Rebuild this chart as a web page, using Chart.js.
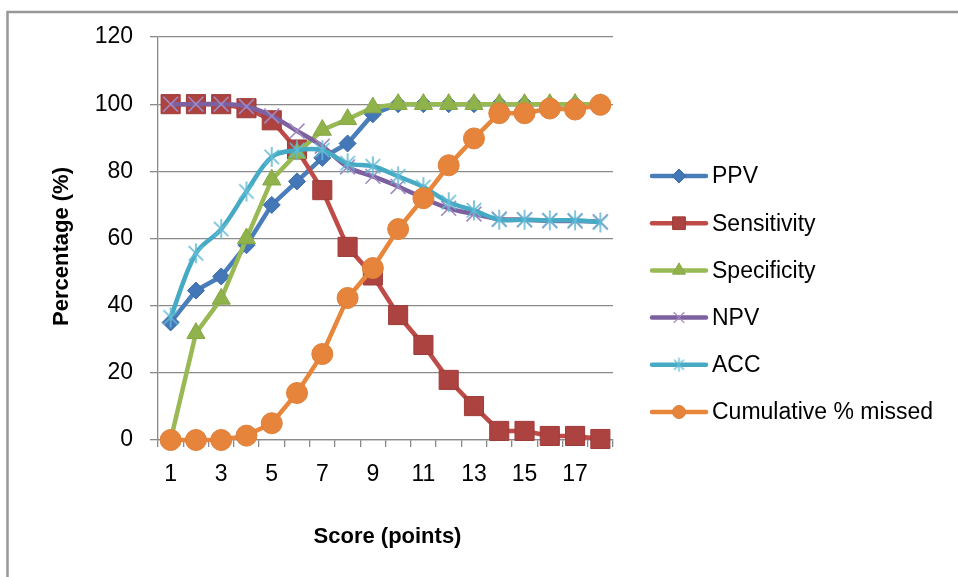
<!DOCTYPE html>
<html>
<head>
<meta charset="utf-8">
<script src="https://cdn.jsdelivr.net/npm/chart.js@4/dist/chart.umd.min.js"></script>
<style>
  html, body { margin: 0; padding: 0; background: #fff; }
  #wrap { width: 958px; height: 577px; }
</style>
</head>
<body>
<div id="wrap"><canvas id="c" width="958" height="577"></canvas></div>
<script>
// Score cut-offs and diagnostic measures (%) at each score
const scores = ['1','2','3','4','5','6','7','8','9','10','11','12','13','14','15','16','17','18'];
const ppv         = [35, 44.5, 48.7, 58, 70, 77, 84, 88.3, 97, 100, 100, 100, 100, 100, 100, 100, 100, 100];
const sensitivity = [100, 100, 100, 98.8, 95.2, 86.5, 74.4, 57.5, 49, 37.2, 28.3, 17.9, 10.1, 2.7, 2.7, 1.2, 1.2, 0.3];
const specificity = [0, 31.8, 42, 60, 77.5, 85.4, 92.3, 95.5, 99, 100, 100, 100, 100, 100, 100, 100, 100, 100];
const npv         = [100, 100, 100, 99.3, 96.5, 92, 87.5, 81.3, 78.5, 75.5, 72, 69, 67.3, 65.8, 65.6, 65.3, 65.2, 65];
const acc         = [36.5, 55.6, 62.8, 74, 84.3, 86.3, 86.3, 82.4, 81.5, 78.5, 75.3, 70.8, 68.4, 65.6, 65.6, 65.4, 65.4, 64.8];
const missed      = [0, 0, 0, 1.3, 5, 14, 25.6, 42.3, 51.2, 62.8, 72, 81.8, 89.8, 97.3, 97.3, 98.7, 98.4, 99.8];
const seriesNames = ['PPV', 'Sensitivity', 'Specificity', 'NPV', 'ACC', 'Cumulative % missed'];
const yTicks = { min: 0, max: 120, step: 20 };

const FONT = '"Liberation Sans", Arial, sans-serif';

// asterisk marker: an X with a vertical stroke through it
function asterisk(size, color, lw) {
  const cv = document.createElement('canvas');
  cv.width = size; cv.height = size;
  const g = cv.getContext('2d');
  const c = size / 2, d = size * 0.33, v = size * 0.46;
  g.strokeStyle = color; g.lineWidth = lw; g.lineCap = 'butt';
  g.beginPath();
  g.moveTo(c - d, c - d); g.lineTo(c + d, c + d);
  g.moveTo(c + d, c - d); g.lineTo(c - d, c + d);
  g.moveTo(c, c - v); g.lineTo(c, c + v);
  g.stroke();
  return cv;
}
const accMarker = asterisk(22, '#62BAD4', 1.6);
const accLegendMarker = asterisk(15, '#62BAD4', 1.3);

const palette = [
  { line: '#4A7EBB', fill: '#4477B8', edge: '#3C6CA8', style: 'rectRot', r: 8.5, lr: 7 },
  { line: '#BE4B48', fill: '#AC4341', edge: '#9E3B38', style: 'rect', r: 13.5, lr: 9 },
  { line: '#98B954', fill: '#8FB24B', edge: '#86A845', style: 'triangle', r: 10.5, lr: 7.5 },
  { line: '#7D60A0', fill: 'rgba(0,0,0,0)', edge: '#A089C2', style: 'crossRot', r: 10.5, lr: 7.5 },
  { line: '#46AAC5', fill: 'rgba(0,0,0,0)', edge: '#62BAD4', style: accMarker, r: 10, lr: 7 },
  { line: '#E8873C', fill: '#E5843A', edge: '#E0803A', style: 'circle', r: 10.5, lr: 6.5 }
];
const values = [ppv, sensitivity, specificity, npv, acc, missed];
const smooth = [false, false, false, true, true, false];

const datasets = values.map((v, i) => ({
  label: seriesNames[i],
  data: v,
  borderColor: palette[i].line,
  borderWidth: 4.5,
  tension: smooth[i] ? 0.35 : 0,
  pointStyle: palette[i].style,
  pointRadius: palette[i].r,
  pointBackgroundColor: palette[i].fill,
  pointBorderColor: palette[i].edge,
  pointBorderWidth: (i === 3 || i === 4) ? 1.6 : 1,
  clip: false,
  order: 6 - i,   // later series are painted over earlier ones
  fill: false
}));

// outer frame and white background
const framePlugin = {
  id: 'frame',
  beforeDraw(chart) {
    const ctx = chart.ctx;
    ctx.save();
    ctx.fillStyle = '#fff';
    ctx.fillRect(0, 0, chart.width, chart.height);
    ctx.strokeStyle = '#989898';
    ctx.lineWidth = 2.5;
    ctx.strokeRect(7.5, 12, chart.width + 20, chart.height + 20);
    ctx.restore();
  }
};

// axis titles
const titlesPlugin = {
  id: 'axisTitles',
  afterDraw(chart) {
    const ctx = chart.ctx;
    const a = chart.chartArea;
    ctx.save();
    ctx.fillStyle = '#000';
    ctx.font = 'bold 22px ' + FONT;
    ctx.textAlign = 'center';
    ctx.textBaseline = 'middle';
    ctx.fillText('Score (points)', (a.left + a.right) / 2 + 2, 537);
    ctx.translate(62, (a.top + a.bottom) / 2 + 8);
    ctx.rotate(-Math.PI / 2);
    ctx.fillText('Percentage (%)', 0, 0);
    ctx.restore();
  }
};

// legend: line sample with the series marker, then the name
const legendPlugin = {
  id: 'lineLegend',
  afterDraw(chart) {
    const ctx = chart.ctx;
    const x0 = 652, x1 = 706, mx = 679, tx = 712, y0 = 176, dy = 47.2;
    ctx.save();
    chart.data.datasets.forEach((ds, i) => {
      const y = y0 + i * dy;
      const p = palette[i];
      ctx.strokeStyle = p.line;
      ctx.lineWidth = 4.5;
      ctx.lineCap = 'round';
      ctx.beginPath(); ctx.moveTo(x0, y); ctx.lineTo(x1, y); ctx.stroke();
      ctx.lineCap = 'butt';
      ctx.fillStyle = p.fill;
      ctx.strokeStyle = p.edge;
      ctx.lineWidth = (i === 3 || i === 4) ? 1.3 : 1;
      Chart.helpers.drawPoint(ctx, {
        pointStyle: i === 4 ? accLegendMarker : p.style,
        radius: p.lr, rotation: 0, borderWidth: ctx.lineWidth
      }, mx, y);
      ctx.fillStyle = '#000';
      ctx.font = '23px ' + FONT;
      ctx.textAlign = 'left';
      ctx.textBaseline = 'middle';
      ctx.fillText(ds.label, tx, y + 1);
    });
    ctx.restore();
  }
};

new Chart(document.getElementById('c'), {
  type: 'line',
  data: { labels: scores, datasets },
  options: {
    responsive: false,
    animation: false,
    devicePixelRatio: 1,
    layout: { padding: { left: 0, right: 345, top: 37, bottom: 0 } },
    plugins: { legend: { display: false }, tooltip: { enabled: false } },
    scales: {
      x: {
        type: 'category',
        offset: true,
        afterFit(s) { s.height = 137; },
        grid: { display: true, offset: true, drawOnChartArea: false, drawTicks: true,
                tickLength: 7, color: '#8a8a8a', lineWidth: 1.3 },
        border: { display: true, color: '#8a8a8a', width: 1.3 },
        ticks: {
          autoSkip: false, maxRotation: 0, padding: 14,
          color: '#000', font: { family: FONT, size: 23 },
          callback(val, idx) { return idx % 2 === 0 ? scores[idx] : ''; }
        }
      },
      y: {
        min: yTicks.min, max: yTicks.max,
        afterFit(s) { s.width = 158; },
        grid: { color: '#8a8a8a', lineWidth: 1.3, drawTicks: true, tickLength: 8 },
        border: { display: true, color: '#8a8a8a', width: 1.3 },
        ticks: { stepSize: yTicks.step, padding: 17, color: '#000', font: { family: FONT, size: 23 } }
      }
    }
  },
  plugins: [framePlugin, titlesPlugin, legendPlugin]
});
</script>
</body>
</html>
